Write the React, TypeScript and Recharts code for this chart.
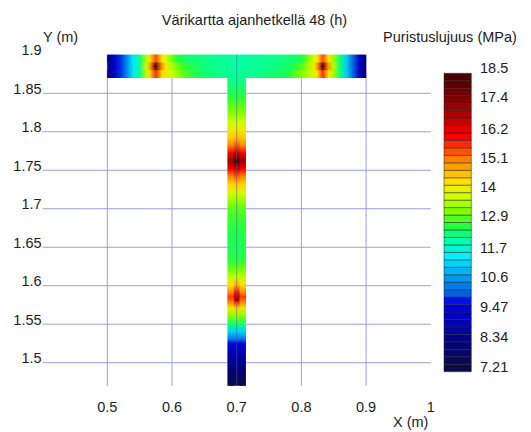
import React from 'react';
import { ComposedChart, XAxis, YAxis, CartesianGrid, ReferenceArea, ReferenceLine, Scatter } from 'recharts';

const FONT = 'Arial, "Liberation Sans", sans-serif';
const FS = 14.5;
const TEXT = '#1c1c1c';
const GRID = '#9c9ce6';

// Axes
const X_TICKS = [0.5, 0.6, 0.7, 0.8, 0.9, 1.0];
const Y_TICKS = [1.5, 1.55, 1.6, 1.65, 1.7, 1.75, 1.8, 1.85, 1.9];
const GRID_Y = [1.5, 1.55, 1.6, 1.65, 1.7, 1.75, 1.8, 1.85];
const GRID_X = [0.5, 0.6, 0.7, 0.8, 0.9];
const X_DOMAIN: [number, number] = [0.4, 1.0];
const Y_DOMAIN: [number, number] = [1.47, 1.9];

// Hot-spot centres (maximum strength points)
const HOT_X = [0.574, 0.833, 0.7, 0.7];
const HOT_Y = [1.885, 1.885, 1.761, 1.582];

// Flange (top of the T)
const FLANGE_X0 = 0.5;
const FLANGE_X1 = 0.9;
const FLANGE_Y0 = 1.87;
const FLANGE_Y1 = 1.9;
const FLANGE_ROW_Y = [1.89, 1.9, 1.87, 1.88]; // top row, bottom row (y1,y2 pairs)
const FLANGE_X = [0.5, 0.51, 0.52, 0.53, 0.54, 0.55, 0.56, 0.565, 0.575, 0.585, 0.59, 0.6, 0.61, 0.62, 0.64, 0.66, 0.68, 0.7, 0.72, 0.74, 0.76, 0.78, 0.79, 0.8, 0.81, 0.82, 0.825, 0.833, 0.842, 0.85, 0.86, 0.87, 0.88, 0.89, 0.9];
const FLANGE_TOP = [8.3, 9.3, 10.0, 10.6, 11.5, 12.3, 13.6, 14.2, 15.6, 14.2, 13.9, 13.2, 12.7, 12.5, 12.4, 12.3, 12.25, 12.2, 12.25, 12.3, 12.35, 12.45, 12.5, 12.6, 13.2, 13.9, 14.4, 15.6, 14.3, 13.4, 12.4, 11.2, 10.2, 9.2, 8.3];
const FLANGE_MID = [8.3, 9.35, 9.97, 10.6, 11.5, 12.3, 13.8, 14.8, 17.6, 15.0, 14.3, 13.6, 13.1, 12.8, 12.5, 12.35, 12.3, 12.2, 12.25, 12.3, 12.35, 12.5, 12.7, 13.0, 13.5, 14.3, 15.1, 17.6, 15.0, 13.6, 12.4, 11.2, 10.2, 9.2, 8.3];
const FLANGE_BOT = [8.3, 9.3, 10.0, 10.6, 11.5, 12.3, 13.7, 14.3, 15.8, 14.4, 14.2, 13.8, 13.4, 13.0, 12.6, 12.4, 12.3, 12.3, 12.3, 12.4, 12.5, 12.7, 13.0, 13.3, 13.6, 14.0, 14.5, 15.8, 14.4, 13.5, 12.4, 11.2, 10.2, 9.2, 8.3];

// Web (stem of the T)
const WEB_Y0 = 1.47;
const WEB_Y1 = 1.87;
const WEB_COL_X = [0.686, 0.6955, 0.7045, 0.714];
const WEB_Y = [1.47, 1.48, 1.49, 1.5, 1.51, 1.52, 1.525, 1.53, 1.54, 1.55, 1.56, 1.57, 1.58, 1.585, 1.59, 1.6, 1.61, 1.62, 1.63, 1.65, 1.67, 1.69, 1.7, 1.71, 1.72, 1.73, 1.74, 1.75, 1.76, 1.77, 1.78, 1.79, 1.8, 1.81, 1.82, 1.83, 1.84, 1.85, 1.86, 1.87];
const WEB_CENTER = [7.5, 7.7, 8.1, 8.6, 9.0, 9.4, 9.7, 10.4, 11.3, 12.5, 13.4, 14.5, 16.3, 16.8, 16.0, 14.8, 13.8, 13.2, 12.8, 12.6, 12.7, 12.9, 13.1, 13.5, 14.0, 14.6, 15.5, 16.8, 18.4, 16.8, 15.5, 14.7, 14.2, 13.8, 13.4, 13.1, 12.8, 12.6, 12.4, 12.3];
const WEB_EDGE = [7.5, 7.7, 8.1, 8.6, 9.0, 9.4, 9.7, 10.4, 11.3, 12.5, 13.3, 14.2, 15.4, 15.7, 15.2, 14.4, 13.7, 13.2, 12.8, 12.6, 12.7, 12.9, 13.1, 13.5, 14.0, 14.5, 15.2, 16.2, 17.2, 16.2, 15.2, 14.6, 14.2, 13.8, 13.4, 13.1, 12.8, 12.6, 12.4, 12.3];

// Colour bar
const VMIN = 7.21;
const VMAX = 18.5;
const CB_TICKS = [7.21, 8.34, 9.47, 10.6, 11.7, 12.9, 14, 15.1, 16.2, 17.4, 18.5];
const CB_LEVELS = 40;

const CMAP: [number, string][] = [
  [0.0125, '#0a0a45'],
  [0.1125, '#00008a'],
  [0.2125, '#0000d8'],
  [0.2375, '#0010e8'],
  [0.2625, '#0060e0'],
  [0.3125, '#0098f0'],
  [0.3875, '#00f0ff'],
  [0.4375, '#00ffb0'],
  [0.4875, '#20ff40'],
  [0.5375, '#80ff00'],
  [0.5875, '#d0ff00'],
  [0.6375, '#ffe000'],
  [0.7125, '#ff8000'],
  [0.7875, '#ff0000'],
  [0.8625, '#b00000'],
  [0.9875, '#4a0000'],
];

function hexRgb(h: string) {
  return [parseInt(h.slice(1, 3), 16), parseInt(h.slice(3, 5), 16), parseInt(h.slice(5, 7), 16)];
}
function cmap(t: number) {
  if (t <= CMAP[0][0]) return CMAP[0][1];
  if (t >= CMAP[CMAP.length - 1][0]) return CMAP[CMAP.length - 1][1];
  for (let i = 0; i < CMAP.length - 1; i++) {
    const [t0, c0] = CMAP[i];
    const [t1, c1] = CMAP[i + 1];
    if (t >= t0 && t <= t1) {
      const f = (t - t0) / (t1 - t0);
      const a = hexRgb(c0);
      const b = hexRgb(c1);
      const c = a.map((v, k) => Math.round(v + (b[k] - v) * f));
      return `rgb(${c[0]},${c[1]},${c[2]})`;
    }
  }
  return CMAP[0][1];
}
const colorOf = (v: number) => cmap((v - VMIN) / (VMAX - VMIN));

// base layer first (full size), then overlays -> no anti-alias seams
const FLANGE_LAYERS = [
  { id: 'fl-mid', vals: FLANGE_MID, y1: FLANGE_Y0, y2: FLANGE_Y1 },
  { id: 'fl-top', vals: FLANGE_TOP, y1: FLANGE_ROW_Y[0], y2: FLANGE_ROW_Y[1] },
  { id: 'fl-bot', vals: FLANGE_BOT, y1: FLANGE_ROW_Y[2], y2: FLANGE_ROW_Y[3] },
];
const WEB_LAYERS = [
  { id: 'web-c', vals: WEB_CENTER, x1: WEB_COL_X[0], x2: WEB_COL_X[3] },
  { id: 'web-l', vals: WEB_EDGE, x1: WEB_COL_X[0], x2: WEB_COL_X[1] },
  { id: 'web-r', vals: WEB_EDGE, x1: WEB_COL_X[2], x2: WEB_COL_X[3] },
];
const HOT_POINTS = HOT_X.map((x, i) => ({ x, y: HOT_Y[i] }));

const CB_BANDS = Array.from({ length: CB_LEVELS }, (_, i) => {
  const lo = VMIN + ((VMAX - VMIN) * i) / CB_LEVELS;
  const hi = VMIN + ((VMAX - VMIN) * (i + 1)) / CB_LEVELS;
  return { lo, hi, mid: (lo + hi) / 2, x: 0.5, color: cmap((i + 0.5) / CB_LEVELS) };
});

const XTick = (props: any) => {
  const { x, y, payload } = props;
  return (
    <text x={x} y={y + 26.2} textAnchor="middle" fontFamily={FONT} fontSize={FS} fill={TEXT}>
      {String(payload.value)}
    </text>
  );
};
const YTick = (props: any) => {
  const { x, y, payload } = props;
  return (
    <text x={x} y={y + 0.5} textAnchor="end" fontFamily={FONT} fontSize={FS} fill={TEXT}>
      {String(payload.value)}
    </text>
  );
};
const CbTick = (props: any) => {
  const { x, y, payload } = props;
  return (
    <text x={x + 8.7} y={y} textAnchor="start" fontFamily={FONT} fontSize={FS} fill={TEXT}>
      {String(payload.value)}
    </text>
  );
};
const HotMark = (props: any) => {
  const { cx, cy } = props;
  return <circle cx={cx} cy={cy} r={1.6} fill="#250000" fillOpacity={0.55} />;
};
const NoMark = () => <g />;

export default function App() {
  return (
    <div style={{ position: 'absolute', left: 0, top: 0, width: 531, height: 432, background: '#fff' }}>
      <svg width={0} height={0} style={{ position: 'absolute' }}>
        <defs>
          {FLANGE_LAYERS.map((r) => (
            <linearGradient key={r.id} id={r.id} x1="0" y1="0" x2="1" y2="0">
              {FLANGE_X.map((x, i) => (
                <stop key={i} offset={(x - FLANGE_X0) / (FLANGE_X1 - FLANGE_X0)} stopColor={colorOf(r.vals[i])} />
              ))}
            </linearGradient>
          ))}
          {WEB_LAYERS.map((c) => (
            <linearGradient key={c.id} id={c.id} x1="0" y1="1" x2="0" y2="0">
              {WEB_Y.map((y, i) => (
                <stop key={i} offset={(y - WEB_Y0) / (WEB_Y1 - WEB_Y0)} stopColor={colorOf(c.vals[i])} />
              ))}
            </linearGradient>
          ))}
        </defs>
      </svg>
      <div style={{ position: 'absolute', left: 0, top: 0 }}>
        <ComposedChart width={531} height={432} data={HOT_POINTS} margin={{ top: 54.8, right: 100.2, bottom: 16.2, left: 0 }}>
          <CartesianGrid horizontalValues={GRID_Y} verticalValues={GRID_X} stroke={GRID} strokeWidth={1} />
          <XAxis
            type="number"
            dataKey="x"
            domain={X_DOMAIN}
            ticks={X_TICKS}
            allowDataOverflow
            axisLine={false}
            tickLine={false}
            tickSize={0}
            tickMargin={0}
            height={30}
            interval={0}
            tick={<XTick />}
          />
          <YAxis
            type="number"
            dataKey="y"
            domain={Y_DOMAIN}
            ticks={Y_TICKS}
            allowDataOverflow
            axisLine={false}
            tickLine={false}
            tickSize={0}
            tickMargin={1}
            width={42.6}
            interval={0}
            tick={<YTick />}
          />
          {WEB_LAYERS.map((c) => (
            <ReferenceArea
              key={c.id}
              x1={c.x1}
              x2={c.x2}
              y1={WEB_Y0}
              y2={WEB_Y1 + 0.003}
              fill={`url(#${c.id})`}
              fillOpacity={1}
              stroke="none"
            />
          ))}
          {FLANGE_LAYERS.map((r) => (
            <ReferenceArea
              key={r.id}
              x1={FLANGE_X0}
              x2={FLANGE_X1}
              y1={r.y1}
              y2={r.y2}
              fill={`url(#${r.id})`}
              fillOpacity={1}
              stroke="none"
            />
          ))}
          <ReferenceLine x={0.7} stroke="#5a5aa8" strokeOpacity={0.5} strokeWidth={1} />
          <Scatter data={HOT_POINTS} dataKey="y" isAnimationActive={false} shape={<HotMark />} />
        </ComposedChart>
      </div>
      <div style={{ position: 'absolute', left: 431, top: 0 }}>
        <ComposedChart width={100} height={432} data={CB_BANDS} margin={{ top: 73.3, right: 0, bottom: 60.3, left: 13 }}>
          <XAxis type="number" dataKey="x" domain={[0, 1]} allowDataOverflow hide />
          <YAxis
            type="number"
            dataKey="mid"
            orientation="right"
            domain={[VMIN, VMAX]}
            ticks={CB_TICKS}
            allowDataOverflow
            axisLine={false}
            tickLine={false}
            tickSize={0}
            tickMargin={0}
            width={59.7}
            interval={0}
            tick={<CbTick />}
          />
          {CB_BANDS.map((b, i) => (
            <ReferenceArea
              key={i}
              x1={0}
              x2={1}
              y1={b.lo}
              y2={b.hi}
              fill={b.color}
              fillOpacity={1}
              stroke="#262626"
              strokeOpacity={0.65}
              strokeWidth={0.8}
            />
          ))}
          <Scatter data={CB_BANDS} dataKey="mid" isAnimationActive={false} shape={<NoMark />} />
        </ComposedChart>
      </div>
      <svg
        width={531}
        height={432}
        style={{ position: 'absolute', left: 0, top: 0, pointerEvents: 'none' }}
        fontFamily={FONT}
        fontSize={FS}
        fill={TEXT}
      >
        <text x={254.5} y={25} textAnchor="middle">Värikartta ajanhetkellä 48 (h)</text>
        <text x={43} y={42}>Y (m)</text>
        <text x={393} y={427}>X (m)</text>
        <text x={450} y={42} textAnchor="middle">Puristuslujuus (MPa)</text>
      </svg>
    </div>
  );
}
